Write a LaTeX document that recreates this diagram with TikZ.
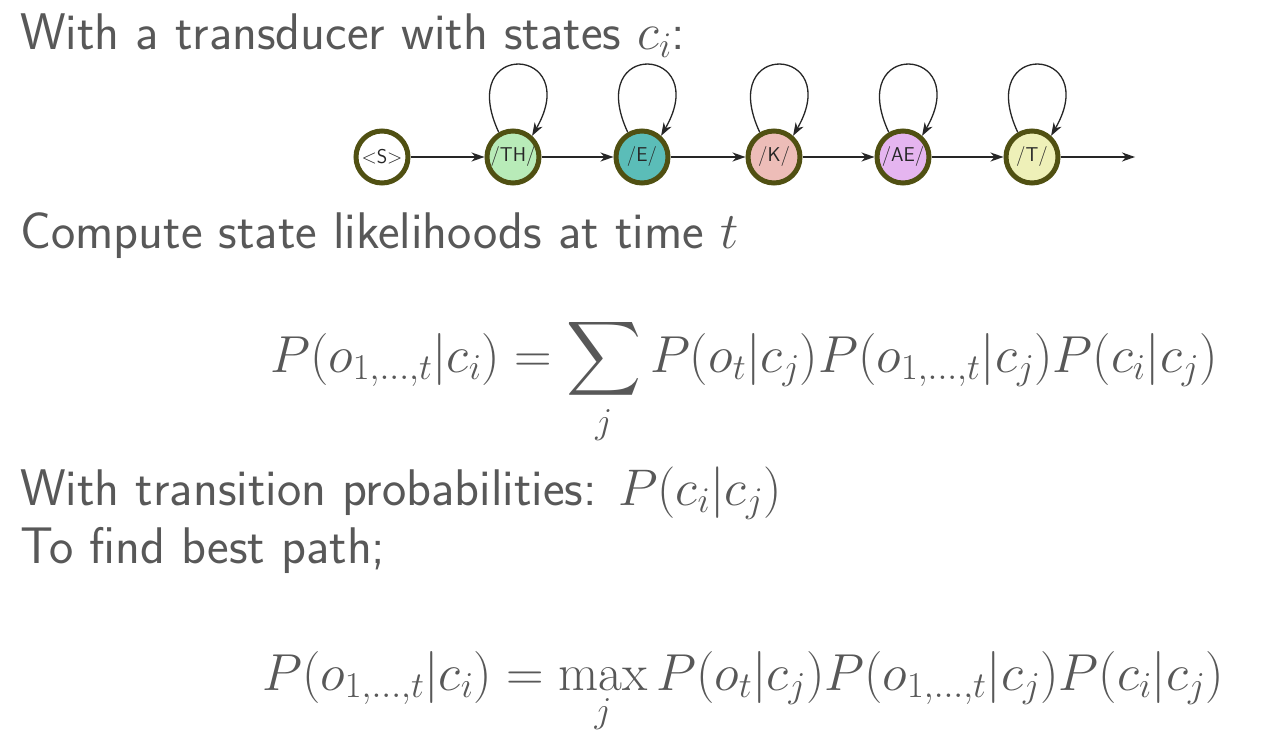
\documentclass[tikz,border=0pt]{standalone}
\usepackage{fix-cm}
\usepackage{fontspec}
\usepackage{amsmath}
\usepackage{tikz}
\usetikzlibrary{arrows.meta}
\DeclareFontShape{OMX}{cmex}{m}{n}{<->cmex10}{}

\definecolor{slidegray}{RGB}{88,88,88}
\definecolor{ringolive}{RGB}{80,80,18}
\definecolor{phTH}{RGB}{184,235,184}
\definecolor{phE}{RGB}{91,189,184}
\definecolor{phK}{RGB}{237,189,184}
\definecolor{phAE}{RGB}{229,181,240}
\definecolor{phT}{RGB}{238,240,184}

\begin{document}
\begin{tikzpicture}[x=1pt,y=-1pt]
\tikzstyle{every node}+=[inner sep=0pt]
\tikzstyle{slidetext}=[anchor=base west,text=slidegray,font=\fontsize{51.5}{60}\selectfont\sffamily]
\tikzstyle{slidemath}=[anchor=base west,text=slidegray,font=\fontsize{52}{62}\selectfont]
\tikzstyle{phone}=[circle,draw=ringolive,line width=5pt,minimum size=52pt,
  font=\fontsize{20}{22}\selectfont\sffamily,text=black!85]
\tikzstyle{trans}=[-{Stealth[length=13pt,width=9pt,inset=4pt]},line width=1.3pt,black!85]
\useasboundingbox (0,0) rectangle (1276,730);
\fill [white] (0,0) rectangle (1276,730);
% slide text
\node [slidetext] (intro) at (20,50) {With a transducer with states $c_i$:};
\node [slidetext] (compute) at (20,248) {Compute state likelihoods at time $t$};
\node [slidemath] (sumeq) at (270,372) {$\displaystyle P(o_{1,\ldots,t}|c_i)=\sum_j P(o_t|c_j)P(o_{1,\ldots,t}|c_j)P(c_i|c_j)$};
\node [slidetext] (trprob) at (20,505) {With transition probabilities: $P(c_i|c_j)$};
\node [slidetext] (best) at (20,563) {To find best path;};
\node [slidemath] (maxeq) at (262,690) {$\displaystyle P(o_{1,\ldots,t}|c_i)=\max_j P(o_t|c_j)P(o_{1,\ldots,t}|c_j)P(c_i|c_j)$};
% transducer
\node [phone,fill=white] (s) at (382,157) {<S>};
\node [phone,fill=phTH] (th) at (513,157) {/TH/};
\node [phone,fill=phE] (e) at (642,157) {/E/};
\node [phone,fill=phK] (k) at (774,157) {/K/};
\node [phone,fill=phAE] (ae) at (903,157) {/AE/};
\node [phone,fill=phT] (t) at (1032,157) {/T/};
\coordinate (out) at (1135,157);
\draw [trans] (s) -- (th);
\draw [trans] (th) -- (e);
\draw [trans] (e) -- (k);
\draw [trans] (k) -- (ae);
\draw [trans] (ae) -- (t);
\draw [trans] (t) -- (out);
\foreach \st in {th,e,k,ae,t}
  \draw [trans] (\st.120) to[out=115,in=60,distance=104pt] (\st.48);
\end{tikzpicture}
\end{document}
